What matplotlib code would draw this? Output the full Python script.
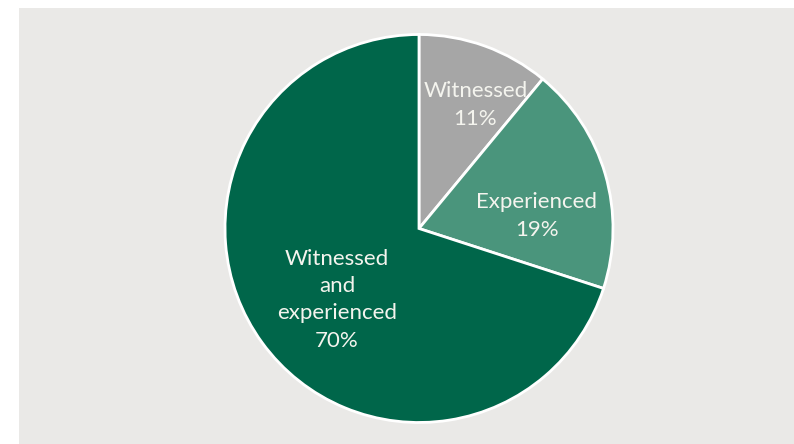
import matplotlib.pyplot as plt
import numpy as np

# Share of respondents by type of exposure
categories = ["Witnessed", "Experienced", "Witnessed\nand\nexperienced"]
shares = [11, 19, 70]
colors = ["#a6a6a6", "#4a957c", "#00664a"]

# label anchor as (radius fraction, angle in degrees)
label_pos = [(0.70, 65.5), (0.61, 6), (0.56, 221)]

plt.rcParams['font.family'] = ['Lato', 'DejaVu Sans']

fig = plt.figure(figsize=(7.94, 4.44), dpi=100)
fig.patch.set_facecolor('white')

# grey panel behind the pie
bg = fig.add_axes([19 / 794, 0, 1 - 19 / 794, 1 - 8 / 444])
bg.set_facecolor('#eae9e7')
bg.set_xticks([])
bg.set_yticks([])
for s in bg.spines.values():
    s.set_visible(False)

# pie centred at (419, 228) px with radius ~194 px
r_px = 194
cx, cy = 419, 444 - 228.5
ax = fig.add_axes([(cx - r_px) / 794, (cy - r_px) / 444,
                   2 * r_px / 794, 2 * r_px / 444])
wedges, _ = ax.pie(shares, colors=colors, startangle=90, counterclock=False,
                   radius=1.0,
                   wedgeprops=dict(edgecolor='white', linewidth=2))
ax.set_xlim(-1, 1)
ax.set_ylim(-1, 1)
ax.set_aspect('equal')
ax.axis('off')

for name, val, (rf, ang) in zip(categories, shares, label_pos):
    a = np.deg2rad(ang)
    ax.text(rf * np.cos(a), rf * np.sin(a), f"{name}\n{val}%",
            ha='center', va='center', color='#f4f4ee', fontsize=16,
            linespacing=1.46)

fig.savefig('out.png', dpi=100, facecolor='white')
